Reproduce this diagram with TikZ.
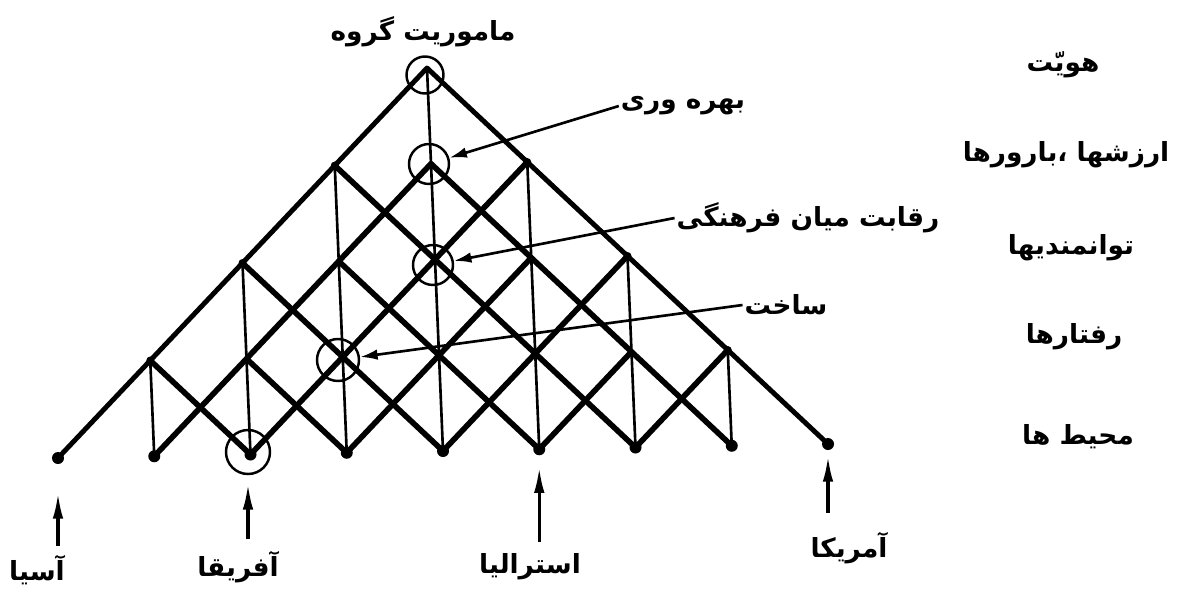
\documentclass[tikz,border=0pt]{standalone}
\usepackage{fontspec}
\usetikzlibrary{arrows.meta}
\newfontfamily\farsi[Script=Arabic]{DejaVu Sans}
\TeXXeTstate=1
\newcommand{\fatxt}[1]{\beginR #1\endR}

\begin{document}
\begin{tikzpicture}[x=0.2mm, y=-0.2mm,
    rim/.style={line width=2.8pt, line cap=round, line join=round},
    brace/.style={line width=3.2pt, line cap=round},
    post/.style={line width=1.5pt},
    joint/.style={circle, fill, inner sep=0pt, minimum size=2.4mm},
    knot/.style={circle, fill, inner sep=0pt, minimum size=1.6mm},
    ring/.style={circle, draw, line width=1.4pt, inner sep=0pt, minimum size=8mm},
    word/.style={font=\farsi\bfseries\fontsize{15}{18}\selectfont, inner sep=1pt},
    pointer/.style={line width=1.5pt, -{Latex[length=10pt,width=6pt]}},
    riser/.style={line width=1.9pt, -{Latex[length=15pt,width=6pt]}}
  ]
  \useasboundingbox (0,0) rectangle (1182,592);

  % lattice points: column i, level h
  \foreach \i in {0,...,8} {
    \pgfmathtruncatemacro{\hmax}{min(\i,8-\i)}
    \foreach \h in {0,...,\hmax}
      \coordinate (p\i-\h) at ({58+96.25*\i-4*\h}, {458-1.75*\i-95.75*\h});
  }

  % posts
  \foreach \i in {1,...,7} {
    \pgfmathtruncatemacro{\hmax}{min(\i,8-\i)}
    \draw[post] (p\i-\hmax) -- (p\i-0);
  }

  % braces rising to the right
  \foreach \i in {1,...,6} {
    \pgfmathtruncatemacro{\nk}{(8-\i)/2}
    \pgfmathtruncatemacro{\nm}{\i+\nk}
    \draw[brace] (p\i-0) -- (p\nm-\nk);
  }
  % braces rising to the left
  \foreach \j in {2,...,7} {
    \pgfmathtruncatemacro{\nk}{\j/2}
    \pgfmathtruncatemacro{\nm}{\j-\nk}
    \draw[brace] (p\j-0) -- (p\nm-\nk);
  }

  % outer frame
  \draw[rim] (p0-0) -- (p4-4) -- (p8-0);

  % feet and knots
  \foreach \i in {0,...,8}
    \node[joint] (foot\i) at (p\i-0) {};
  \foreach \i/\h in {1/1, 2/2, 3/3, 5/3, 6/2, 7/1}
    \node[knot] (knot\i) at (p\i-\h) {};

  % rings
  \node[ring, minimum size=7.4mm] (rMission) at (425,75) {};
  \node[ring] (rGain) at (429,164) {};
  \node[ring] (rRival) at (433,265) {};
  \node[ring, minimum size=8.4mm] (rBuild) at (338,360) {};
  \node[ring, minimum size=8.8mm] (rAfrica) at (248,452) {};

  % labels on the pyramid
  \node[word] (mission) at (423,32) {\fatxt{ماموریت گروه}};
  \node[word] (gain) at (683,106) {\fatxt{بهره وری}};
  \node[word] (rival) at (808,218) {\fatxt{رقابت میان فرهنگی}};
  \node[word] (build) at (786,305) {\fatxt{ساخت}};

  \draw[pointer] (gain.west) -- (rGain);
  \draw[pointer] (rival.west) -- (rRival);
  \draw[pointer] (build.west) -- (rBuild);

  % levels
  \node[word] (identity) at (1063,65) {\fatxt{هویّت}};
  \node[word] (values) at (1066,155) {\fatxt{ارزشها ،بارورها}};
  \node[word] (abilities) at (1071,248) {\fatxt{توانمندیها}};
  \node[word] (behaviours) at (1074,337) {\fatxt{رفتارها}};
  \node[word] (settings) at (1078,437) {\fatxt{محیط ها}};

  % continents
  \node[word] (asia) at (37,570) {\fatxt{آسیا}};
  \node[word] (africa) at (238,567) {\fatxt{آفریقا}};
  \node[word] (australia) at (530,567) {\fatxt{استرالیا}};
  \node[word] (america) at (849,548) {\fatxt{آمریکا}};

  \draw[riser, shorten <=1.5mm, shorten >=5.6mm] (asia.north -| foot0) -- (foot0);
  \draw[riser, shorten <=2mm, shorten >=1.6mm] (africa.north -| rAfrica) -- (rAfrica);
  \draw[riser, shorten <=2mm, shorten >=2.2mm] (australia.north -| foot5) -- (foot5);
  \draw[riser, shorten <=3.5mm, shorten >=1mm] (america.north -| foot8) -- (foot8);
\end{tikzpicture}
\end{document}
